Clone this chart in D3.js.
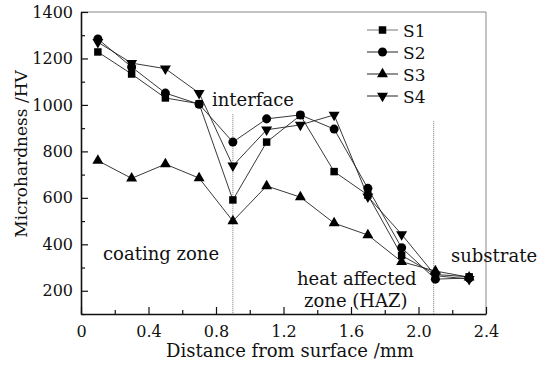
<!DOCTYPE html>
<html>
<head>
<meta charset="utf-8">
<script src="https://cdn.jsdelivr.net/npm/d3@7"></script>
<style>
  body { margin: 0; background: #fff; }
  svg text { font-family: "DejaVu Serif", "Liberation Serif", serif; fill: #111; }
</style>
</head>
<body>
<div id="chart"></div>
<script>
// distance from surface (mm)
const distances = [0.1, 0.3, 0.5, 0.7, 0.9, 1.1, 1.3, 1.5, 1.7, 1.9, 2.1, 2.3];
const s1 = [1228, 1133, 1030, 1005, 591, 840, 955, 713, 612, 352, 270, 260];
const s2 = [1284, 1163, 1051, 1003, 840, 940, 957, 896, 641, 385, 250, 255];
const s3 = [760, 684, 745, 685, 500, 651, 603, 491, 440, 325, 285, 258];
const s4 = [1270, 1180, 1156, 1051, 738, 893, 914, 957, 605, 443, 265, 250];
const seriesNames = ["S1", "S2", "S3", "S4"];
const xTicks = [0, 0.4, 0.8, 1.2, 1.6, 2.0, 2.4];
const yTicks = [200, 400, 600, 800, 1000, 1200, 1400];

const W = 550, H = 367;
const margin = { top: 12, right: 64, bottom: 53, left: 81 };
const width = W - margin.left - margin.right;
const height = H - margin.top - margin.bottom;

const svg = d3.select("#chart").append("svg")
    .attr("width", W)
    .attr("height", H);

const g = svg.append("g")
    .attr("transform", `translate(${margin.left},${margin.top})`);

const x = d3.scaleLinear().domain([0, 2.4]).range([0, width]);
const y = d3.scaleLinear().domain([100, 1400]).range([height, 0]);

// top and right frame
g.append("line").attr("x1", 0).attr("x2", width).attr("y1", 0).attr("y2", 0)
    .attr("stroke", "#888").attr("stroke-width", 1);
g.append("line").attr("x1", width).attr("x2", width).attr("y1", 0).attr("y2", height)
    .attr("stroke", "#888").attr("stroke-width", 1);

// minor ticks
g.append("g")
    .call(d3.axisLeft(y).tickValues(d3.range(100, 1401, 200)).tickSize(-4).tickFormat(""))
    .call(a => a.select(".domain").remove())
    .selectAll("line").attr("stroke", "#111").attr("stroke-width", 1.2);
g.append("g")
    .attr("transform", `translate(0,${height})`)
    .call(d3.axisBottom(x).tickValues(d3.range(0.2, 2.4, 0.4)).tickSize(-4).tickFormat(""))
    .call(a => a.select(".domain").remove())
    .selectAll("line").attr("stroke", "#111").attr("stroke-width", 1.2);

// major axes
const yAxis = g.append("g")
    .call(d3.axisLeft(y).tickValues(yTicks).tickSize(-7).tickPadding(8).tickSizeOuter(0)
        .tickFormat(d3.format("d")));
yAxis.select(".domain").attr("stroke", "#111").attr("stroke-width", 1.6);
yAxis.selectAll("line").attr("stroke", "#111").attr("stroke-width", 1.2);
yAxis.selectAll("text").style("font-size", "16px").style("font-family", "DejaVu Serif");

const xAxis = g.append("g")
    .attr("transform", `translate(0,${height})`)
    .call(d3.axisBottom(x).tickValues(xTicks).tickSize(-7).tickPadding(12).tickSizeOuter(0)
        .tickFormat(d => d === 0 ? "0" : d3.format(".1f")(d)));
xAxis.select(".domain").attr("stroke", "#111").attr("stroke-width", 1.6);
xAxis.selectAll("line").attr("stroke", "#111").attr("stroke-width", 1.2);
xAxis.selectAll("text").style("font-size", "16px").style("font-family", "DejaVu Serif");

// dotted zone boundaries
const bounds = [{ v: 0.9, top: 960 }, { v: 2.09, top: 930 }];
g.selectAll("line.bound")
    .data(bounds)
    .enter()
    .append("line")
    .attr("class", "bound")
    .attr("x1", d => x(d.v)).attr("x2", d => x(d.v))
    .attr("y1", d => y(d.top)).attr("y2", height)
    .attr("stroke", "#777").attr("stroke-width", 1)
    .attr("stroke-dasharray", "1,1");

// series
const series = [
    { name: "S1", values: s1, symbol: d3.symbolSquare, size: 56, rotate: 0 },
    { name: "S2", values: s2, symbol: d3.symbolCircle, size: 64, rotate: 0 },
    { name: "S3", values: s3, symbol: d3.symbolTriangle, size: 52, rotate: 0 },
    { name: "S4", values: s4, symbol: d3.symbolTriangle, size: 52, rotate: 180 }
];

const line = d3.line()
    .x((d, i) => x(distances[i]))
    .y(d => y(d));

series.forEach(s => {
    g.append("path")
        .datum(s.values)
        .attr("fill", "none")
        .attr("stroke", "#222")
        .attr("stroke-width", 0.9)
        .attr("d", line);
});

series.forEach(s => {
    g.selectAll(null)
        .data(s.values)
        .enter()
        .append("path")
        .attr("d", d3.symbol().type(s.symbol).size(s.size))
        .attr("transform", (d, i) => `translate(${x(distances[i])},${y(d)}) rotate(${s.rotate})`)
        .attr("fill", "#000");
});

// legend
const legend = g.append("g").attr("transform", `translate(${367 - margin.left},${30 - margin.top})`);
series.forEach((s, i) => {
    const row = legend.append("g").attr("transform", `translate(0,${i * 22})`);
    row.append("line").attr("x1", 0).attr("x2", 31).attr("y1", 0).attr("y2", 0)
        .attr("stroke", i === 0 ? "#777" : "#222").attr("stroke-width", 1);
    row.append("path")
        .attr("d", d3.symbol().type(s.symbol).size(s.size))
        .attr("transform", `translate(15.5,0) rotate(${s.rotate})`)
        .attr("fill", "#000");
    row.append("text")
        .attr("x", 36).attr("y", 6.5)
        .style("font-size", "17px")
        .text(seriesNames[i]);
});

// annotations
const notes = [
    { t: "interface", x: 212, y: 106 },
    { t: "coating zone", x: 103, y: 260 },
    { t: "heat affected", x: 297, y: 285 },
    { t: "zone (HAZ)", x: 304, y: 307 },
    { t: "substrate", x: 451, y: 262 }
];
svg.selectAll("text.note")
    .data(notes)
    .enter()
    .append("text")
    .attr("class", "note")
    .attr("x", d => d.x).attr("y", d => d.y)
    .style("font-size", "18px")
    .text(d => d.t);

// axis titles
svg.append("text")
    .attr("text-anchor", "middle")
    .attr("x", 290).attr("y", 357)
    .style("font-size", "18px")
    .text("Distance from surface /mm");

svg.append("text")
    .attr("text-anchor", "middle")
    .attr("transform", "translate(27,154) rotate(-90)")
    .style("font-size", "17px")
    .text("Microhardness /HV");
</script>
</body>
</html>
